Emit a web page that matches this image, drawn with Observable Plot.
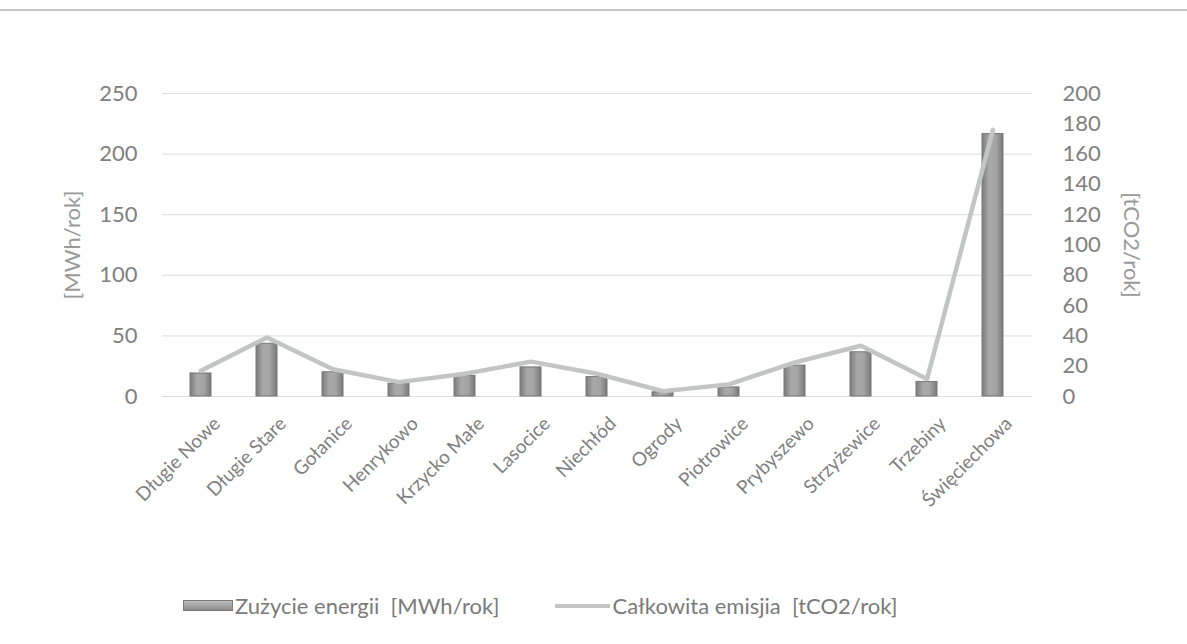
<!DOCTYPE html>
<html>
<head>
<meta charset="utf-8">
<script src="https://cdn.jsdelivr.net/npm/d3@7"></script>
<script src="https://cdn.jsdelivr.net/npm/@observablehq/plot@0.6"></script>
<style>
  html, body { margin: 0; padding: 0; background: #fff; }
  body { width: 1187px; height: 644px; position: relative; overflow: hidden; font-family: Lato, "Open Sans", sans-serif; }
  #topline { position: absolute; left: 0; top: 9px; width: 1187px; height: 2px; background: #c4c4c4; }
  #chart { position: absolute; left: 0; top: 0; }
  #legend { position: absolute; left: 183px; top: 592px; display: flex; align-items: center; color: #7a7a7a; font-size: 22px; white-space: pre; }
  .sw-bar { width: 50px; height: 11px; background: linear-gradient(#bdbdbd, #8c8c8c); border: 1px solid #7c7c7c; box-sizing: border-box; margin-right: 2px; }
  .sw-line { width: 55px; height: 4px; background: #c3c5c5; margin-left: 56px; margin-right: 2px; }
</style>
</head>
<body>
<div id="topline"></div>
<div id="chart"></div>
<div id="legend">
  <span class="sw-bar"></span><span>Zużycie energii  [MWh/rok]</span>
  <span class="sw-line"></span><span>Całkowita emisjia  [tCO2/rok]</span>
</div>
<script>
const categories = ["Długie Nowe", "Długie Stare", "Gołanice", "Henrykowo", "Krzycko Małe", "Lasocice", "Niechłód", "Ogrody", "Piotrowice", "Prybyszewo", "Strzyżewice", "Trzebiny", "Święciechowa"];
const energy = [19, 43.5, 20, 10.5, 17, 24, 16, 3.5, 7.5, 25.5, 36.5, 12, 216.5];
const emission = [17, 39, 18, 9.5, 15, 23, 15, 3.5, 8, 22.5, 33.5, 11.5, 176];
const leftTicks = [0, 50, 100, 150, 200, 250];
const rightTicks = [0, 20, 40, 60, 80, 100, 120, 140, 160, 180, 200];

const ratio = 250 / 200; // right axis max 200 mapped onto left axis max 250
const data = categories.map((c, i) => ({cat: c, energy: energy[i], emission: emission[i], emissionScaled: emission[i] * ratio}));

const textColor = "#808080";
const chart = Plot.plot({
  width: 1187,
  height: 580,
  marginTop: 93,
  marginBottom: 184,
  marginLeft: 162,
  marginRight: 155,
  style: {fontFamily: "Lato, 'Open Sans', sans-serif", color: textColor, background: "transparent"},
  x: {domain: categories, paddingInner: 0.68, paddingOuter: 0.34, axis: null},
  y: {domain: [0, 250], axis: null},
  marks: [
    Plot.gridY(leftTicks, {stroke: "#dcdcdc", strokeOpacity: 1, strokeWidth: 1}),
    Plot.barY(data, {x: "cat", y: "energy", fill: "url(#barGrad)", stroke: "#777", strokeWidth: 1}),
    Plot.lineY(data, {x: "cat", y: "emissionScaled", stroke: "#c3c5c5", strokeWidth: 4.5, strokeLinejoin: "round", strokeLinecap: "round"}),
    Plot.axisY({anchor: "left", ticks: leftTicks, tickSize: 0, tickPadding: 25, fontSize: 22, label: null}),
    Plot.axisY({anchor: "right", ticks: rightTicks.map(v => v * ratio), tickFormat: v => String(Math.round(v / ratio)), tickSize: 0, tickPadding: 30, fontSize: 22, label: null}),
    Plot.axisX({tickRotate: -45, tickSize: 0, tickPadding: 24, fontSize: 19, label: null, dx: 16}),
    Plot.text(["[MWh/rok]"], {frameAnchor: "left", text: d => d, rotate: -90, textAnchor: "middle", dx: -90, fontSize: 22, fill: "#9a9a9a"}),
    Plot.text(["[tCO2/rok]"], {frameAnchor: "right", text: d => d, rotate: 90, textAnchor: "middle", dx: 99, fontSize: 22, fill: "#9a9a9a"})
  ]
});

// gradient for the bars
const ns = "http://www.w3.org/2000/svg";
const defs = document.createElementNS(ns, "defs");
const grad = document.createElementNS(ns, "linearGradient");
grad.setAttribute("id", "barGrad");
grad.setAttribute("x1", "0"); grad.setAttribute("x2", "1"); grad.setAttribute("y1", "0"); grad.setAttribute("y2", "0");
[["0%", "#7d7d7d"], ["35%", "#a9a9a9"], ["65%", "#a4a4a4"], ["100%", "#7a7a7a"]].forEach(([o, c]) => {
  const s = document.createElementNS(ns, "stop");
  s.setAttribute("offset", o); s.setAttribute("stop-color", c);
  grad.appendChild(s);
});
defs.appendChild(grad);
chart.insertBefore(defs, chart.firstChild);

document.getElementById("chart").appendChild(chart);
</script>
</body>
</html>
